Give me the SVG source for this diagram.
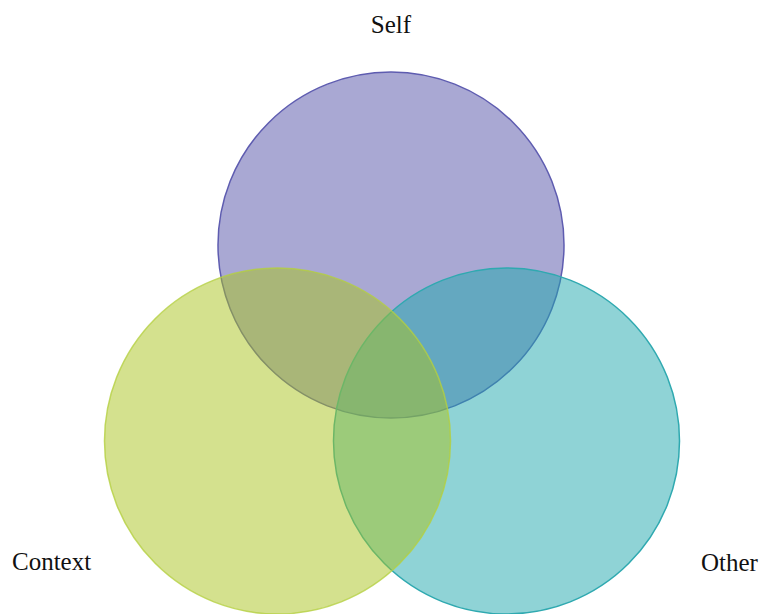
<svg xmlns="http://www.w3.org/2000/svg" width="760" height="614" viewBox="0 0 760 614">
<style>
.lbl{font-family:"Liberation Serif","Times New Roman",serif;font-size:25px;fill:#111}
.c{stroke-width:1.5}
</style>
<rect width="760" height="614" fill="#fff"/>
<g id="self">
<circle class="c" cx="391" cy="245" r="173" fill="#5351A7" fill-opacity="0.5" stroke="#5E5CB0"/>
</g>
<g id="other">
<circle class="c" cx="506.5" cy="441" r="173" fill="#1FA7AD" fill-opacity="0.5" stroke="#2FA9B0"/>
</g>
<g id="context">
<circle class="c" cx="277.5" cy="441" r="173" fill="#A9C31D" fill-opacity="0.5" stroke="#B4D040" stroke-opacity="0.8"/>
</g>
<g id="connectors"></g>
<g id="labels">
<text class="lbl" x="391" y="33" text-anchor="middle">Self</text>
<text class="lbl" x="12" y="570">Context</text>
<text class="lbl" x="701" y="571">Other</text>
</g>
</svg>
